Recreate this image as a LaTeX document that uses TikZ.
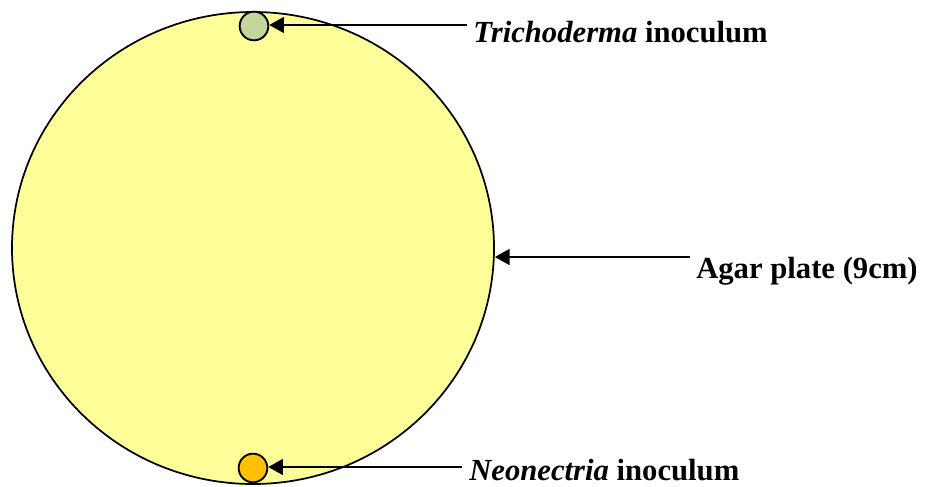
\documentclass[tikz,border=0pt]{standalone}
\usepackage{fontspec}
\setmainfont{Liberation Serif}
\usepackage{xcolor}
\usepackage{tikz}
\usetikzlibrary{arrows.meta, shapes.geometric}
\definecolor{agar}{RGB}{255,255,153}
\definecolor{trichgreen}{RGB}{195,214,155}
\definecolor{neoorange}{RGB}{255,192,0}

\tikzset{
  plate/.style={ellipse, draw, line width=1.3pt, fill=agar, inner sep=0pt,
    minimum width=361.5pt, minimum height=354pt},
  inoc/.style={circle, draw, line width=1.4pt, inner sep=0pt, minimum size=21.5pt},
  lbl/.style={anchor=base west, inner sep=0pt},
  pointer/.style={-{Triangle[length=11pt, width=12pt]}, line width=1.1pt}
}

\begin{document}
\begin{tikzpicture}[x=0.75pt, y=-0.75pt, font=\fontsize{23}{27}\selectfont\bfseries]
	\useasboundingbox (0,0) rectangle (932,486);
	
	% Petri dish
	\node[plate] (plate) at (253,248) {};
	
	% inocula
	\node[inoc, fill=trichgreen] (trich) at (254,26) {};
	\node[inoc, fill=neoorange] (neo) at (253,468) {};
	
	% labels
	\node[lbl] (trichlbl) at (473,42) {\textit{Trichoderma} inoculum};
	\node[lbl] (platelbl) at (696,278) {Agar plate (9cm)};
	\node[lbl] (neolbl) at (469,480) {\textit{Neonectria} inoculum};
	
	% arrows
	\coordinate (trichtail) at (467,25);
	\coordinate (platetail) at (690,257);
	\coordinate (neotail) at (462,467);
	\draw[pointer] (trichtail) -- (trichtail -| trich.east);
	\draw[pointer] (platetail) -- (platetail -| plate.east);
	\draw[pointer] (neotail) -- (neotail -| neo.east);
\end{tikzpicture}
\end{document}
